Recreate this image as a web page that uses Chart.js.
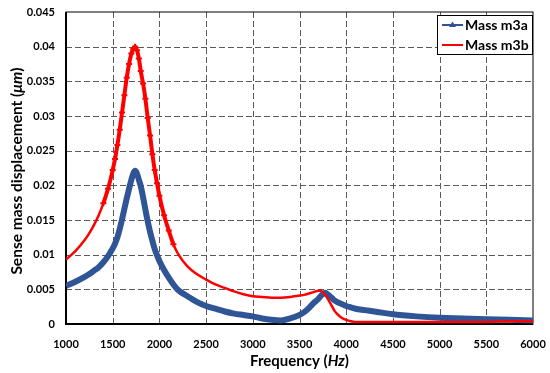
<!DOCTYPE html>
<html>
<head>
<meta charset="utf-8">
<script src="https://cdn.jsdelivr.net/npm/chart.js@4.4.1/dist/chart.umd.min.js"></script>
<style>
  html, body { margin: 0; padding: 0; background: #fff; }
  #wrap { width: 550px; height: 373px; }
</style>
</head>
<body>
<div id="wrap"><canvas id="myChart" width="550" height="373"></canvas></div>
<script>
// frequency points (Hz)
const freqHz = [1000, 1100, 1200, 1250, 1300, 1350, 1400, 1450, 1500, 1525, 1550, 1575, 1600, 1625, 1650, 1675,
  1700, 1720, 1740, 1760, 1780, 1800, 1825, 1850, 1875, 1900, 1925, 1950, 1975, 2000, 2050, 2100, 2150, 2200,
  2300, 2400, 2500, 2600, 2700, 2800, 2900, 3000, 3100, 3200, 3300, 3400, 3500, 3550, 3600, 3650, 3700, 3725,
  3750, 3775, 3800, 3825, 3850, 3875, 3900, 3950, 4000, 4050, 4100, 4200, 4300, 4400, 4500, 4750, 5000, 5250,
  5500, 5750, 6000];

// Mass m3a displacement (um)
const massM3a = [0.0055, 0.0061, 0.0068, 0.0072, 0.0077, 0.0082, 0.0089, 0.0098, 0.0109, 0.0116, 0.0125, 0.0137,
  0.0151, 0.0166, 0.0181, 0.0195, 0.0208, 0.0217, 0.0221, 0.0217, 0.0208, 0.0199, 0.0183, 0.0165, 0.0148, 0.0133,
  0.0120, 0.0108, 0.0099, 0.0091, 0.0078, 0.0067, 0.0057, 0.0049, 0.0040, 0.0032, 0.0026, 0.0022, 0.0018, 0.0015,
  0.0013, 0.0011, 0.0008, 0.0006, 0.0005, 0.0008, 0.0013, 0.0017, 0.0023, 0.0030, 0.0036, 0.0040, 0.0043, 0.0045,
  0.0043, 0.0040, 0.0037, 0.0034, 0.0032, 0.0029, 0.0026, 0.0024, 0.0022, 0.0020, 0.0018, 0.0016, 0.0014, 0.0011,
  0.0009, 0.0008, 0.0007, 0.0006, 0.0005];

// Mass m3b displacement (um)
const massM3b = [0.0093, 0.0105, 0.0121, 0.0131, 0.0143, 0.0157, 0.0174, 0.0195, 0.0222, 0.0238, 0.0258, 0.0280,
  0.0305, 0.0330, 0.0355, 0.0375, 0.0390, 0.0397, 0.0400, 0.0395, 0.0383, 0.0365, 0.0347, 0.0325, 0.0297, 0.0272,
  0.0245, 0.0222, 0.0203, 0.0185, 0.0157, 0.0135, 0.0115, 0.0101, 0.0083, 0.0072, 0.0064, 0.0057, 0.0052, 0.0047,
  0.0043, 0.0040, 0.0039, 0.0038, 0.0038, 0.0039, 0.0041, 0.0042, 0.0044, 0.0046, 0.0048, 0.0048, 0.0046, 0.0042,
  0.0037, 0.0031, 0.0025, 0.0019, 0.0015, 0.0009, 0.0006, 0.0004, 0.0003, 0.0003, 0.0003, 0.0003, 0.0003, 0.0003,
  0.0003, 0.0003, 0.0003, 0.0004, 0.0004];

const seriesNames = ['Mass m3a', 'Mass m3b'];
const xTicks = [1000, 1500, 2000, 2500, 3000, 3500, 4000, 4500, 5000, 5500, 6000];
const yTicks = [0, 0.005, 0.01, 0.015, 0.02, 0.025, 0.03, 0.035, 0.04, 0.045];

const FONT = 'Lato, "DejaVu Sans", sans-serif';
const BLUE = '#2f5597';
const RED = '#ff0000';

const toPoints = vals => freqHz.map((f, i) => ({ x: f, y: vals[i] }));
const inPeak = f => f >= 1400 && f <= 2150;

// dashed grid + frame
const framePlugin = {
  id: 'frame',
  beforeDatasetsDraw(chart) {
    const { ctx, chartArea: a, scales: { x, y } } = chart;
    ctx.save();
    ctx.strokeStyle = '#5a5a5a';
    ctx.lineWidth = 1;
    ctx.setLineDash([6, 3]);
    xTicks.slice(1, -1).forEach(v => {
      const px = Math.round(x.getPixelForValue(v)) + 0.5;
      ctx.beginPath(); ctx.moveTo(px, a.top); ctx.lineTo(px, a.bottom); ctx.stroke();
    });
    yTicks.slice(1, -1).forEach(v => {
      const py = Math.round(y.getPixelForValue(v)) + 0.5;
      ctx.beginPath(); ctx.moveTo(a.left, py); ctx.lineTo(a.right, py); ctx.stroke();
    });
    ctx.setLineDash([]);
    ctx.strokeStyle = '#000';
    ctx.lineWidth = 1;
    ctx.strokeRect(a.left, a.top, a.right - a.left, a.bottom - a.top);
    ctx.lineWidth = 2;
    ctx.beginPath();
    ctx.moveTo(a.left, a.top); ctx.lineTo(a.left, a.bottom); ctx.lineTo(a.right, a.bottom);
    ctx.stroke();
    ctx.restore();
  }
};

// axis titles with italic units
function drawMixed(ctx, parts, size) {
  let total = 0;
  parts.forEach(p => {
    ctx.font = (p.it ? 'italic ' : '') + 'bold ' + size + 'px ' + FONT;
    p.w = ctx.measureText(p.t).width; total += p.w;
  });
  let cx = -total / 2;
  parts.forEach(p => {
    ctx.font = (p.it ? 'italic ' : '') + 'bold ' + size + 'px ' + FONT;
    ctx.fillText(p.t, cx, 0); cx += p.w;
  });
}

const textPlugin = {
  id: 'texts',
  afterDraw(chart) {
    const { ctx, chartArea: a } = chart;
    ctx.save();
    ctx.fillStyle = '#000';
    ctx.textBaseline = 'alphabetic';
    ctx.textAlign = 'left';
    ctx.save();
    ctx.translate((a.left + a.right) / 2, 366);
    drawMixed(ctx, [{ t: 'Frequency (' }, { t: 'Hz', it: true }, { t: ')' }], 15);
    ctx.restore();
    ctx.save();
    ctx.translate(22, 171);
    ctx.rotate(-Math.PI / 2);
    drawMixed(ctx, [{ t: 'Sense mass displacement (' }, { t: '\u03bcm', it: true }, { t: ')' }], 15.5);
    ctx.restore();

    // legend box
    const bw = 96, bh = 40;
    const bx = a.right - bw, by = a.top + 3;
    ctx.fillStyle = '#fff';
    ctx.fillRect(bx, by, bw, bh);
    ctx.strokeStyle = '#000';
    ctx.lineWidth = 1;
    ctx.strokeRect(bx + 0.5, by + 0.5, bw - 1, bh - 1);
    const colors = [BLUE, RED];
    seriesNames.forEach((name, i) => {
      const ly = by + 10 + i * 20;
      ctx.strokeStyle = colors[i];
      ctx.lineWidth = 2;
      ctx.beginPath(); ctx.moveTo(bx + 5, ly); ctx.lineTo(bx + 26, ly); ctx.stroke();
      if (i === 0) {
        ctx.fillStyle = BLUE;
        ctx.beginPath(); ctx.moveTo(bx + 15.5, ly - 3.5); ctx.lineTo(bx + 19, ly + 2); ctx.lineTo(bx + 12, ly + 2); ctx.closePath(); ctx.fill();
      }
      ctx.fillStyle = '#000';
      ctx.font = 'bold 14px ' + FONT;
      ctx.textBaseline = 'middle';
      ctx.fillText(name, bx + 28, ly + 0.5);
    });
    ctx.restore();
  }
};

const ctx = document.getElementById('myChart').getContext('2d');
const myChart = new Chart(ctx, {
  type: 'line',
  data: {
    datasets: [{
      label: seriesNames[0],
      data: toPoints(massM3a),
      borderColor: BLUE,
      backgroundColor: BLUE,
      borderWidth: 6,
      pointRadius: 0,
      cubicInterpolationMode: 'monotone',
      order: 1
    }, {
      label: seriesNames[1],
      data: toPoints(massM3b),
      borderColor: RED,
      backgroundColor: RED,
      borderWidth: 2.5,
      segment: { borderWidth: s => (inPeak(s.p0.parsed.x) && inPeak(s.p1.parsed.x)) ? 4 : 2.5 },
      pointStyle: 'cross',
      pointRadius: c => (c.raw && inPeak(c.raw.x)) ? 3 : 0,
      pointBorderWidth: 2,
      cubicInterpolationMode: 'monotone',
      order: 0
    }]
  },
  options: {
    responsive: false,
    animation: false,
    layout: { padding: { left: 0, right: 17, top: 12, bottom: 0 } },
    plugins: { legend: { display: false }, tooltip: { enabled: false } },
    scales: {
      x: {
        type: 'linear', min: 1000, max: 6000,
        afterBuildTicks: s => { s.ticks = xTicks.map(v => ({ value: v })); },
        afterFit: s => { s.height = 49; },
        grid: { display: false, drawTicks: true, tickLength: 14 },
        border: { display: false },
        ticks: { padding: 0, color: '#000', font: { family: FONT, size: 11, weight: 'bold' }, callback: v => String(v), maxRotation: 0 }
      },
      y: {
        type: 'linear', min: 0, max: 0.045,
        afterBuildTicks: s => { s.ticks = yTicks.map(v => ({ value: v })); },
        afterFit: s => { s.width = 66; },
        grid: { display: false, drawTicks: true, tickLength: 11 },
        border: { display: false },
        ticks: { padding: 0, color: '#000', font: { family: FONT, size: 11, weight: 'bold' }, callback: v => String(+v.toFixed(3)) }
      }
    }
  },
  plugins: [framePlugin, textPlugin]
});
</script>
</body>
</html>
